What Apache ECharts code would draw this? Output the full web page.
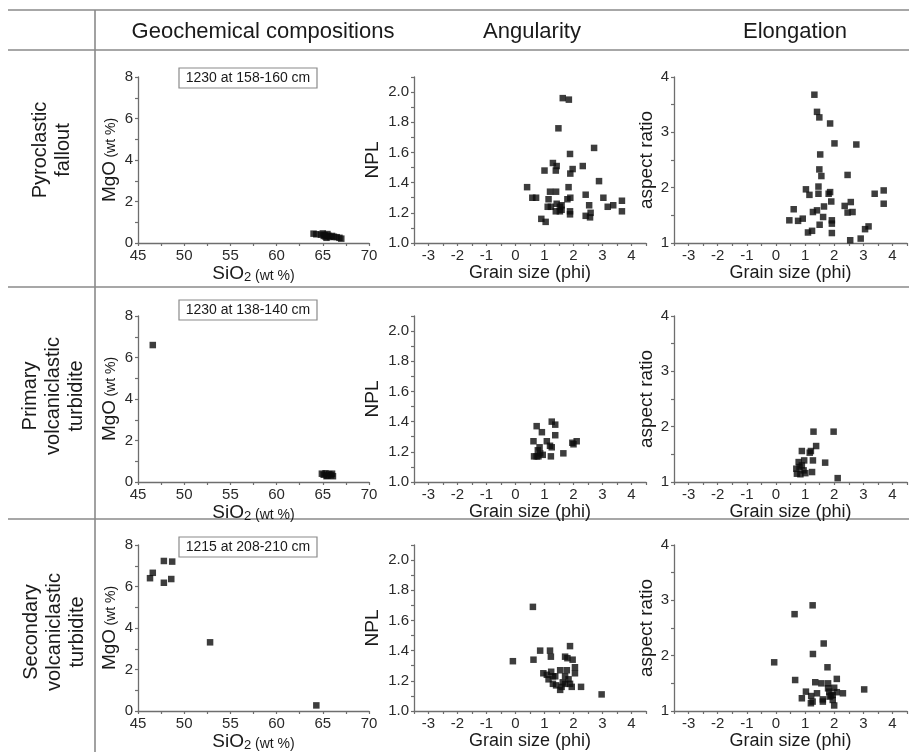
<!DOCTYPE html>
<html>
<head>
<meta charset="utf-8">
<script src="https://cdn.jsdelivr.net/npm/echarts@6/dist/echarts.min.js"></script>
<style>html,body{margin:0;padding:0;background:#fff}#c{width:909px;height:752px}</style>
</head>
<body>
<div id="c"></div>
<script>
// ---------- data ----------
const columnTitles = ['Geochemical compositions', 'Angularity', 'Elongation'];
const rowTitles = ['Pyroclastic\nfallout', 'Primary\nvolcaniclastic\nturbidite', 'Secondary\nvolcaniclastic\nturbidite'];
const sampleLabels = ['1230 at 158-160 cm', '1230 at 138-140 cm', '1215 at 208-210 cm'];

const sio2Ticks = [45, 50, 55, 60, 65, 70];
const sio2TickMarks = [45, 47.5, 50, 52.5, 55, 57.5, 60, 62.5, 65, 67.5, 70];
const mgoTicks = [0, 2, 4, 6, 8];
const mgoTickMarks = [0, 1, 2, 3, 4, 5, 6, 7, 8];
const grainTicks = [-3, -2, -1, 0, 1, 2, 3, 4];
const grainTickMarks = [-3.5, -3, -2.5, -2, -1.5, -1, -0.5, 0, 0.5, 1, 1.5, 2, 2.5, 3, 3.5, 4, 4.5];
const nplTicks = [1.0, 1.2, 1.4, 1.6, 1.8, 2.0];
const nplTickMarks = [1.0, 1.1, 1.2, 1.3, 1.4, 1.5, 1.6, 1.7, 1.8, 1.9, 2.0, 2.1];
const aspectTicks = [1, 2, 3, 4];
const aspectTickMarks = [1, 1.5, 2, 2.5, 3, 3.5, 4];

// [SiO2, MgO]
const falloutGeochem = [[64.0,0.45],[64.3,0.42],[64.8,0.40],[65.0,0.46],[65.2,0.38],[65.3,0.31],[65.5,0.43],[65.6,0.35],[65.8,0.29],[66.0,0.34],[66.2,0.30],[66.5,0.28],[66.8,0.25],[67.0,0.21],[65.4,0.25],[65.1,0.34]];
const primaryGeochem = [[46.6,6.6],[64.9,0.40],[65.1,0.35],[65.3,0.42],[65.5,0.30],[65.7,0.38],[65.9,0.32],[66.0,0.40],[66.1,0.28],[65.4,0.28]];
const secondaryGeochem = [[46.3,6.4],[46.6,6.66],[47.8,7.23],[48.7,7.2],[47.8,6.18],[48.6,6.36],[52.8,3.31],[64.3,0.27]];

// [grain size (phi), NPL]
const falloutNPL = [[1.63,1.96],[1.84,1.95],[1.48,1.76],[1.88,1.59],[2.71,1.63],[0.40,1.37],[0.58,1.30],[0.71,1.30],[1.00,1.48],[1.29,1.53],[1.42,1.51],[1.39,1.48],[1.97,1.49],[1.89,1.46],[2.32,1.51],[1.83,1.37],[2.88,1.41],[1.19,1.34],[1.40,1.34],[1.14,1.29],[1.11,1.24],[1.22,1.24],[1.42,1.26],[1.59,1.25],[1.53,1.24],[1.79,1.29],[1.89,1.30],[1.39,1.21],[1.53,1.21],[1.59,1.22],[1.88,1.21],[1.88,1.19],[2.42,1.32],[2.54,1.25],[2.42,1.18],[2.57,1.17],[3.03,1.30],[3.18,1.24],[3.37,1.25],[3.67,1.28],[3.67,1.21],[0.89,1.16],[1.04,1.14],[2.59,1.20]];
const primaryNPL = [[0.73,1.37],[0.91,1.33],[0.62,1.27],[1.25,1.40],[1.37,1.38],[1.37,1.31],[1.08,1.27],[1.19,1.24],[1.25,1.23],[0.77,1.21],[0.85,1.19],[0.94,1.18],[0.64,1.17],[0.79,1.17],[1.22,1.17],[1.65,1.19],[1.96,1.26],[2.11,1.27],[2.00,1.25],[0.73,1.17],[0.83,1.23]];
const secondaryNPL = [[0.60,1.69],[-0.09,1.33],[0.62,1.34],[0.85,1.40],[1.19,1.40],[1.22,1.36],[1.88,1.43],[1.71,1.36],[1.79,1.35],[1.97,1.34],[2.05,1.29],[2.05,1.25],[0.96,1.25],[1.23,1.26],[1.54,1.27],[1.77,1.27],[1.14,1.21],[1.29,1.23],[1.37,1.23],[1.71,1.23],[1.83,1.21],[1.08,1.24],[1.29,1.18],[1.40,1.17],[1.54,1.14],[1.59,1.16],[1.71,1.18],[1.88,1.18],[1.94,1.16],[2.26,1.16],[2.97,1.11],[1.63,1.19]];

// [grain size (phi), aspect ratio]
const falloutAspect = [[1.32,3.68],[1.41,3.37],[1.49,3.27],[1.86,3.16],[2.01,2.80],[2.76,2.78],[1.52,2.60],[1.49,2.33],[1.56,2.21],[2.46,2.23],[1.03,1.97],[1.46,2.02],[1.15,1.87],[1.46,1.89],[1.81,1.89],[1.86,1.92],[3.39,1.89],[3.70,1.95],[3.70,1.71],[1.90,1.75],[0.61,1.61],[1.65,1.66],[1.27,1.56],[1.41,1.59],[2.36,1.67],[2.57,1.74],[2.46,1.55],[2.63,1.56],[0.46,1.41],[0.76,1.40],[0.92,1.44],[1.62,1.47],[1.92,1.41],[1.92,1.35],[1.50,1.33],[3.18,1.30],[3.06,1.25],[1.10,1.19],[1.24,1.22],[1.92,1.18],[2.91,1.08],[2.55,1.05]];
const primaryAspect = [[1.29,1.91],[1.98,1.91],[1.38,1.65],[1.20,1.56],[0.89,1.56],[1.16,1.53],[1.27,1.39],[0.97,1.39],[1.69,1.35],[0.78,1.36],[0.70,1.24],[0.81,1.27],[0.95,1.21],[0.72,1.15],[0.84,1.14],[1.01,1.16],[1.24,1.18],[2.12,1.07],[0.89,1.30]];
const secondaryAspect = [[1.26,2.91],[0.64,2.75],[1.64,2.22],[1.27,2.03],[-0.06,1.88],[1.77,1.79],[0.66,1.56],[2.09,1.58],[1.35,1.52],[1.56,1.50],[1.79,1.50],[2.00,1.42],[1.79,1.41],[1.03,1.35],[1.41,1.32],[1.83,1.35],[2.09,1.34],[2.30,1.32],[3.03,1.39],[0.89,1.23],[1.21,1.27],[1.61,1.21],[1.84,1.26],[1.95,1.29],[1.20,1.14],[1.26,1.17],[1.61,1.17],[1.95,1.20],[2.00,1.10],[1.89,1.28]];

const panelData = [
  [falloutGeochem, falloutNPL, falloutAspect],
  [primaryGeochem, primaryNPL, primaryAspect],
  [secondaryGeochem, secondaryNPL, secondaryAspect]
];

// ---------- layout ----------
const FONT = 'Liberation Sans, Arial, sans-serif';
const rowTops = [77, 316, 545];
const rowH = 166;
const cols = [{left: 138, width: 231}, {left: 414, width: 232}, {left: 674, width: 233}];
const AXIS_COLOR = '#6e6e6e';
const LABEL_COLOR = '#2a2a2a';

const grids = [], xAxes = [], yAxes = [], series = [];

function baseAxis(ticks, marks, fmt) {
  return {
    axisLine: {show: true, onZero: false, lineStyle: {color: AXIS_COLOR, width: 1.3}},
    axisTick: {show: true, customValues: marks, length: 3, lineStyle: {color: AXIS_COLOR, width: 1.2}},
    axisLabel: {customValues: ticks, color: LABEL_COLOR, fontSize: 15, fontFamily: FONT, margin: 5, formatter: fmt},
    splitLine: {show: false}
  };
}

const xDefs = [
  Object.assign(baseAxis(sio2Ticks, sio2TickMarks, v => String(v)), {
    min: 45, max: 70,
    name: '{a|SiO}{s|2}{b| (wt %)}', nameLocation: 'middle', nameGap: 13,
    nameTextStyle: {color: '#1a1a1a', fontFamily: FONT, rich: {
      a: {fontSize: 19, fontFamily: FONT, color: '#1a1a1a'},
      s: {fontSize: 13, fontFamily: FONT, color: '#1a1a1a', padding: [9, 0, 0, 0]},
      b: {fontSize: 14, fontFamily: FONT, color: '#1a1a1a', padding: [5, 0, 0, 0]}
    }}
  }),
  Object.assign(baseAxis(grainTicks, grainTickMarks, v => String(v)), {
    min: -3.5, max: 4.5,
    name: 'Grain size (phi)', nameLocation: 'middle', nameGap: 17,
    nameTextStyle: {color: '#1a1a1a', fontSize: 18, fontFamily: FONT}
  })
];
const yDefs = [
  Object.assign(baseAxis(mgoTicks, mgoTickMarks, v => String(v)), {
    min: 0, max: 8,
    name: '{a|MgO} {b|(wt %)}', nameLocation: 'middle', nameGap: 19,
    nameTextStyle: {color: '#1a1a1a', fontFamily: FONT, rich: {
      a: {fontSize: 19, fontFamily: FONT, color: '#1a1a1a'},
      b: {fontSize: 14, fontFamily: FONT, color: '#1a1a1a', padding: [4, 0, 0, 0]}
    }}
  }),
  Object.assign(baseAxis(nplTicks, nplTickMarks, v => v.toFixed(1)), {
    min: 1.0, max: 2.1,
    name: 'NPL', nameLocation: 'middle', nameGap: 32,
    nameTextStyle: {color: '#1a1a1a', fontSize: 19, fontFamily: FONT}
  }),
  Object.assign(baseAxis(aspectTicks, aspectTickMarks, v => String(v)), {
    min: 1, max: 4,
    name: 'aspect ratio', nameLocation: 'middle', nameGap: 17,
    nameTextStyle: {color: '#1a1a1a', fontSize: 19, fontFamily: FONT}
  })
];

let idx = 0;
for (let r = 0; r < 3; r++) {
  for (let c = 0; c < 3; c++) {
    grids.push({left: cols[c].left, top: rowTops[r], width: cols[c].width, height: rowH, containLabel: false, outerBoundsMode: 'none'});
    const xa = JSON.parse(JSON.stringify(xDefs[c === 0 ? 0 : 1]));
    xa.axisLabel.formatter = xDefs[c === 0 ? 0 : 1].axisLabel.formatter;
    xa.gridIndex = idx; xa.type = 'value';
    const ya = JSON.parse(JSON.stringify(yDefs[c]));
    ya.axisLabel.formatter = yDefs[c].axisLabel.formatter;
    ya.gridIndex = idx; ya.type = 'value';
    xAxes.push(xa); yAxes.push(ya);
    series.push({
      type: 'scatter', xAxisIndex: idx, yAxisIndex: idx,
      data: panelData[r][c], symbol: 'rect', symbolSize: 6.5,
      itemStyle: {color: '#0d0d0d'}, silent: true
    });
    idx++;
  }
}

// ---------- table frame & titles ----------
const LINE = {stroke: '#8a8a8a', lineWidth: 1.6};
const hLines = [10, 50, 287, 519];
const graphic = [];
hLines.forEach(y => graphic.push({type: 'line', shape: {x1: 8, y1: y, x2: 909, y2: y}, style: LINE, silent: true}));
graphic.push({type: 'line', shape: {x1: 95, y1: 10, x2: 95, y2: 752}, style: LINE, silent: true});

const headerX = [263, 532, 795];
columnTitles.forEach((t, i) => graphic.push({
  type: 'text', x: headerX[i], y: 32,
  style: {text: t, fontSize: 22, fontFamily: FONT, fill: '#1a1a1a', align: 'center', verticalAlign: 'middle'}
}));

const rowLabelPos = [[52, 150], [53, 396], [54, 632]];
rowTitles.forEach((t, i) => graphic.push({
  type: 'text', x: rowLabelPos[i][0], y: rowLabelPos[i][1], rotation: Math.PI / 2,
  style: {text: t, fontSize: 20, fontFamily: FONT, fill: '#1a1a1a', align: 'center', verticalAlign: 'middle', lineHeight: 23}
}));

const boxY = [68, 300, 537];
sampleLabels.forEach((t, i) => {
  graphic.push({type: 'rect', shape: {x: 179, y: boxY[i], width: 138, height: 20}, style: {fill: '#fff', stroke: '#8a8a8a', lineWidth: 1.2}});
  graphic.push({type: 'text', x: 248, y: boxY[i] + 10, style: {text: t, fontSize: 14, fontFamily: FONT, fill: '#1a1a1a', align: 'center', verticalAlign: 'middle'}});
});

const chart = echarts.init(document.getElementById('c'), null, {renderer: 'canvas'});
chart.setOption({
  animation: false,
  backgroundColor: '#fff',
  grid: grids,
  xAxis: xAxes,
  yAxis: yAxes,
  series: series,
  graphic: graphic
});
</script>
</body>
</html>
